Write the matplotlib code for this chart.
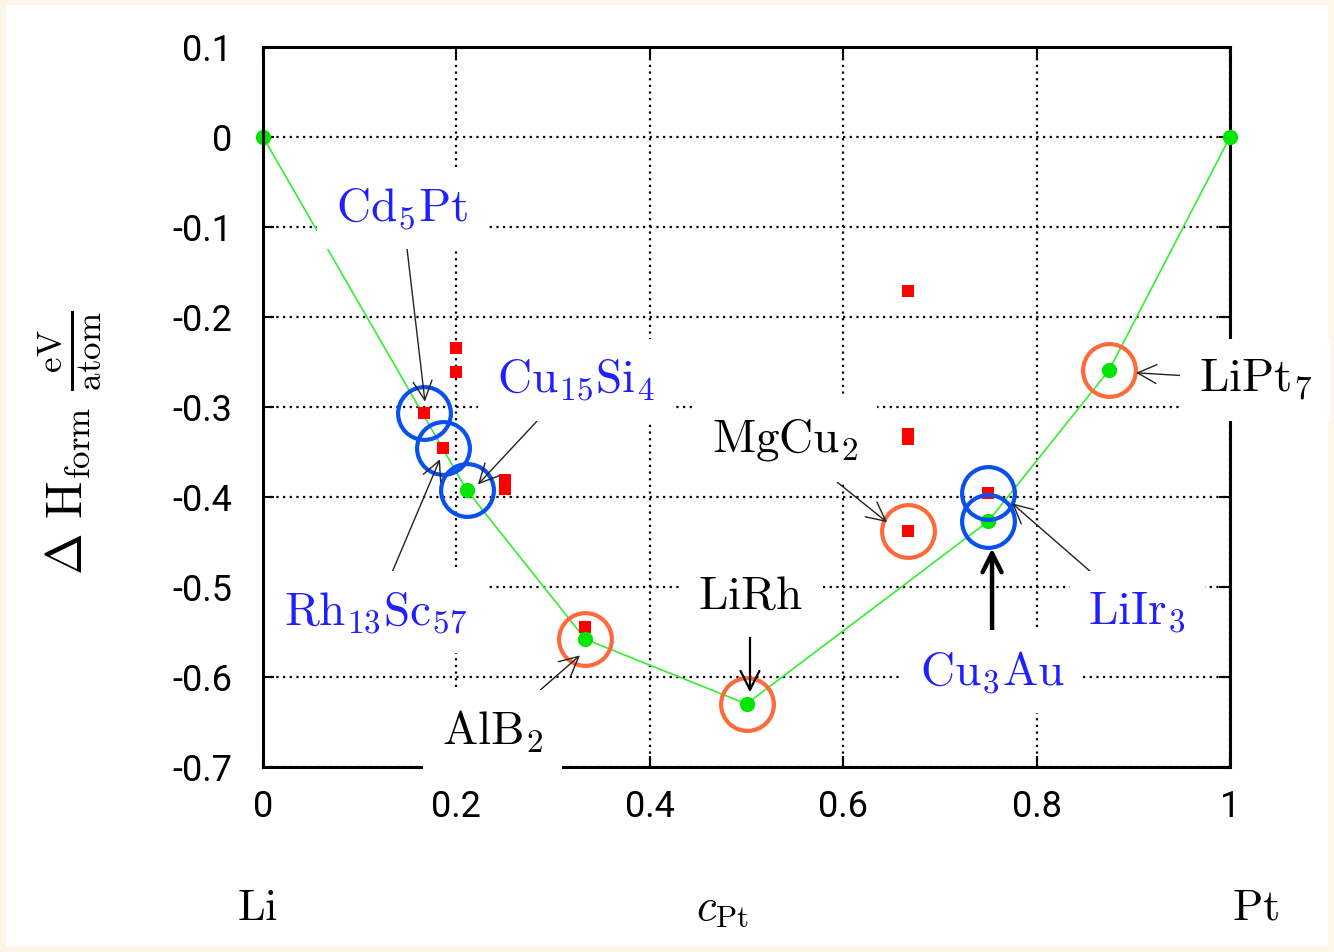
import numpy as np
import matplotlib
matplotlib.use('Agg')
import matplotlib.pyplot as plt
from matplotlib.patches import Rectangle

plt.rcParams['mathtext.fontset'] = 'cm'
plt.rcParams['font.family'] = ['Roboto', 'DejaVu Sans']

# convex hull (green) - concentration of Pt, formation enthalpy in eV/atom
hull_c = [0, 4/19, 1/3, 1/2, 3/4, 7/8, 1]
hull_h = [0, -0.392, -0.558, -0.630, -0.427, -0.259, 0]

# other calculated structures (red squares)
other_c = [1/6, 13/70, 0.2, 0.2, 0.25, 0.25, 0.25, 1/3, 2/3, 2/3, 2/3, 2/3, 0.75]
other_h = [-0.307, -0.346, -0.234, -0.261, -0.381, -0.386, -0.391, -0.544,
           -0.171, -0.330, -0.336, -0.438, -0.396]

# circled structures
blue_names = [r'$\mathrm{Cd_5Pt}$', r'$\mathrm{Rh_{13}Sc_{57}}$', r'$\mathrm{Cu_{15}Si_4}$',
              r'$\mathrm{LiIr_3}$', r'$\mathrm{Cu_3Au}$']
blue_c = [1/6, 13/70, 4/19, 0.75, 0.75]
blue_h = [-0.307, -0.346, -0.392, -0.396, -0.427]

orange_names = [r'$\mathrm{AlB_2}$', r'$\mathrm{LiRh}$', r'$\mathrm{MgCu_2}$', r'$\mathrm{LiPt_7}$']
orange_c = [1/3, 1/2, 2/3, 7/8]
orange_h = [-0.558, -0.630, -0.438, -0.259]

# label layout: text centre and arrow tip (data coords)
blue_text = [(0.144, -0.079), (0.116, -0.528), (0.323, -0.270), (0.904, -0.528), (0.754, -0.594)]
blue_tip = [(0.1675, -0.294), (0.183, -0.358), (0.2223, -0.386), (0.7746, -0.407), (0.7539, -0.457)]
blue_lw = [1.0, 1.0, 1.0, 1.0, 3.2]
orange_text = [(0.237, -0.661), (0.5036, -0.510), (0.540, -0.337), (1.026, -0.270)]
orange_tip = [(0.3278, -0.576), (0.5036, -0.617), (0.6453, -0.428), (0.9028, -0.262)]
orange_lw = [1.0, 1.6, 1.0, 1.0]

x_ticks = [0, 0.2, 0.4, 0.6, 0.8, 1]
x_labels = ['0', '0.2', '0.4', '0.6', '0.8', '1']
y_ticks = [0.1, 0, -0.1, -0.2, -0.3, -0.4, -0.5, -0.6, -0.7]
y_labels = ['0.1', '0', '-0.1', '-0.2', '-0.3', '-0.4', '-0.5', '-0.6', '-0.7']

W, H = 1334, 952
fig = plt.figure(figsize=(W / 100, H / 100), dpi=100, facecolor='#fdf5e8')
fig.patches.append(Rectangle((6 / W, 6 / H), 1 - 12 / W, 1 - 11 / H,
                             transform=fig.transFigure, facecolor='white',
                             edgecolor='none', zorder=-10))
ax = fig.add_axes([263 / W, 1 - 767 / H, (1230 - 263) / W, (767 - 47) / H])
ax.set_zorder(1)
ax.set_facecolor('white')

ax.plot(hull_c, hull_h, color='#33ee33', lw=1.2, zorder=3)
ax.plot(other_c, other_h, 's', color='#ff0000', ms=9, mew=0, zorder=4)
ax.plot(hull_c, hull_h, 'o', color='#00e600', ms=11, mew=0, zorder=5, clip_on=False)
ax.plot(blue_c, blue_h, 'o', mfc='none', mec='#0a50f0', ms=38, mew=3, zorder=6)
ax.plot(orange_c, orange_h, 'o', mfc='none', mec='#ff6a3a', ms=38, mew=3, zorder=6)

box = dict(boxstyle='square,pad=0.4', fc='white', ec='none')
for name, t, tip, lw in zip(blue_names, blue_text, blue_tip, blue_lw):
    ax.annotate(name, xy=tip, xytext=t, ha='center', va='center', fontsize=34,
                color='#1f1fff', bbox=box, zorder=10, annotation_clip=False,
                arrowprops=dict(arrowstyle='->', color='#222222' if lw < 2 else 'black',
                                lw=lw, shrinkA=0, shrinkB=0))
for name, t, tip, lw in zip(orange_names, orange_text, orange_tip, orange_lw):
    ax.annotate(name, xy=tip, xytext=t, ha='center', va='center', fontsize=34,
                color='black', bbox=box, zorder=10, annotation_clip=False,
                arrowprops=dict(arrowstyle='->', color='#222222' if lw < 1.5 else 'black',
                                lw=lw, shrinkA=0, shrinkB=0))

ax.set_xlim(0, 1)
ax.set_ylim(-0.7, 0.1)
ax.set_xticks(x_ticks)
ax.set_xticklabels(x_labels)
ax.set_yticks(y_ticks)
ax.set_yticklabels(y_labels)
ax.tick_params(direction='in', length=8, width=1.5, top=True, right=True,
               labelsize=26, pad=16)
ax.tick_params(axis='y', pad=22)
ax.grid(True, color='black', linestyle=(0, (1, 2)), lw=1.6)
ax.set_axisbelow(True)
for s in ax.spines.values():
    s.set_linewidth(2.2)
ax.spines['left'].set_zorder(11)

fig.text(70 / W, 1 - 443 / H,
         r'$\Delta\ \mathrm{H}_{\mathrm{form}}\ \frac{\mathrm{eV}}{\mathrm{atom}}$',
         rotation=90, ha='center', va='center', fontsize=36)
fig.text(257 / W, 1 - 908 / H, r'$\mathrm{Li}$', ha='center', va='center', fontsize=32)
fig.text(1255 / W, 1 - 908 / H, r'$\mathrm{Pt}$', ha='center', va='center', fontsize=32)
fig.text(722 / W, 1 - 908 / H, r'$c_{\mathrm{Pt}}$', ha='center', va='center', fontsize=32)

fig.savefig('out.png', dpi=100, facecolor=fig.get_facecolor())
